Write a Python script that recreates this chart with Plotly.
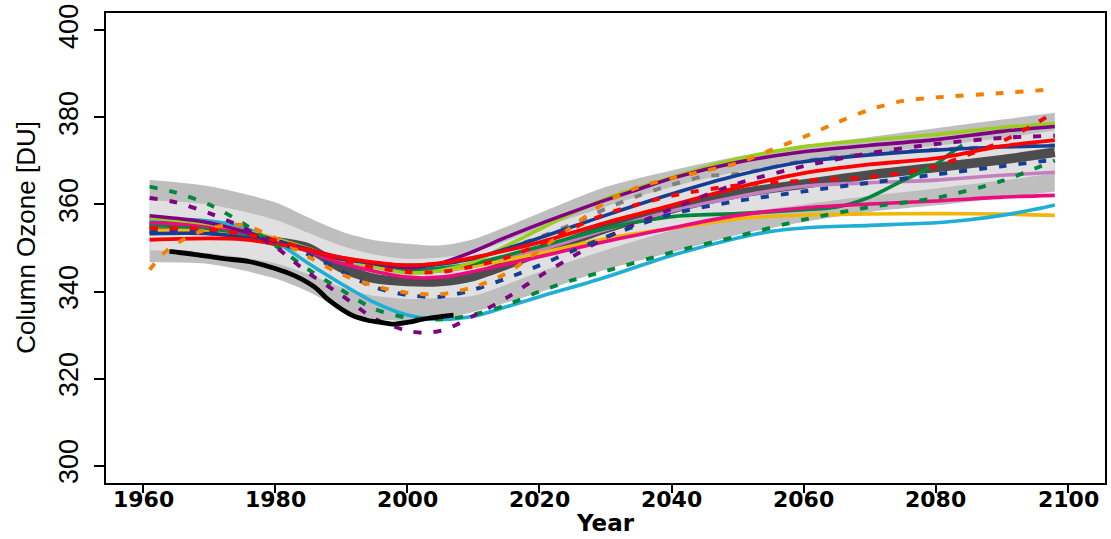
import plotly.graph_objects as go

# ---------------- data ----------------
band_years = [1961, 1970, 1980, 1985, 1990, 1995, 2000, 2005, 2010, 2020, 2030, 2040, 2050, 2060, 2070, 2080, 2090, 2098]
band_hi = [365.6, 364.2, 360.5, 357.0, 353.8, 351.8, 351.0, 350.6, 352.0, 358.0, 364.0, 367.8, 371.0, 373.5, 375.5, 377.5, 379.5, 381.1]
band_lo = [346.7, 346.3, 343.0, 340.0, 336.0, 333.7, 333.3, 333.8, 335.3, 339.8, 345.0, 349.0, 353.0, 356.0, 358.3, 359.8, 361.5, 363.0]
light_hi = [361.0, 360.0, 356.5, 353.5, 350.5, 348.5, 347.5, 347.8, 349.0, 354.5, 359.5, 364.0, 367.5, 369.7, 371.8, 373.5, 375.3, 377.0]
light_lo = [349.5, 348.8, 346.5, 344.0, 341.0, 339.0, 338.3, 338.5, 339.0, 344.5, 349.5, 354.0, 357.8, 360.0, 362.0, 363.7, 365.5, 367.2]
mean_vals = [355.5, 354.5, 351.5, 350.0, 345.5, 343.0, 342.3, 342.3, 343.5, 349.0, 354.5, 359.0, 362.5, 364.7, 366.8, 368.5, 370.3, 372.0]

obs_years = [1964, 1968, 1972, 1976, 1980, 1983, 1986, 1988, 1990, 1992, 1994, 1996, 1998, 2000, 2003, 2007]
obs_vals = [349.2, 348.5, 347.6, 346.9, 345.3, 343.6, 341.0, 338.2, 336.0, 334.3, 333.4, 332.9, 332.5, 332.9, 333.8, 334.6]

grey_dash_years = [1961, 1970, 1980, 1990, 2000, 2010, 2020, 2025, 2030, 2035, 2040, 2045, 2050, 2060, 2070, 2080, 2090, 2098]
grey_dash_vals = [353.5, 353.3, 351.6, 347.5, 346.0, 347.6, 352.5, 355.5, 359.0, 362.0, 364.5, 366.5, 367.0, 370.0, 371.6, 372.6, 373.3, 373.6]

orchid_years = [1961, 1970, 1980, 1990, 2000, 2005, 2010, 2020, 2030, 2040, 2050, 2060, 2070, 2080, 2090, 2098]
orchid_vals = [355.0, 354.5, 351.8, 347.0, 344.7, 344.7, 345.8, 349.5, 354.2, 358.5, 361.8, 364.2, 365.0, 365.6, 366.7, 367.4]

yellow_years = [1961, 1970, 1980, 1990, 2000, 2005, 2010, 2020, 2030, 2040, 2050, 2060, 2070, 2080, 2090, 2098]
yellow_vals = [354.0, 353.8, 351.5, 347.3, 344.9, 344.9, 345.8, 348.8, 352.2, 354.5, 356.7, 357.6, 357.8, 357.9, 357.8, 357.5]

green_years = [1961, 1970, 1980, 1990, 2000, 2005, 2010, 2020, 2030, 2040, 2050, 2060, 2065, 2070, 2075, 2080, 2082, 2084]
green_vals = [355.2, 354.5, 351.8, 347.5, 345.0, 345.4, 346.4, 350.3, 354.5, 357.2, 357.9, 358.8, 359.4, 361.7, 365.5, 369.2, 371.5, 373.6]

cyan_years = [1961, 1965, 1970, 1975, 1980, 1985, 1990, 1995, 2000, 2005, 2010, 2015, 2020, 2030, 2040, 2050, 2055, 2060, 2070, 2080, 2085, 2090, 2095, 2098]
cyan_vals = [356.4, 356.6, 356.2, 354.8, 351.5, 346.5, 341.8, 337.5, 334.6, 333.6, 334.3, 336.5, 338.8, 343.3, 348.3, 352.3, 353.8, 354.6, 355.2, 355.8, 356.5, 357.5, 358.9, 359.9]

pink_years = [1961, 1970, 1980, 1990, 2000, 2005, 2010, 2020, 2030, 2040, 2050, 2060, 2070, 2080, 2090, 2098]
pink_vals = [355.8, 355.0, 352.0, 346.5, 343.3, 343.3, 344.6, 348.0, 351.5, 354.6, 357.5, 359.2, 360.1, 360.8, 361.7, 362.1]

ygreen_years = [1961, 1970, 1980, 1990, 2000, 2005, 2010, 2015, 2020, 2025, 2030, 2035, 2040, 2045, 2050, 2060, 2070, 2080, 2090, 2098]
ygreen_vals = [356.9, 355.5, 352.2, 347.5, 344.3, 344.8, 346.8, 350.5, 354.3, 358.0, 361.3, 363.9, 366.2, 368.5, 370.5, 373.3, 374.8, 376.1, 377.7, 378.6]

purple_years = [1961, 1970, 1980, 1990, 2000, 2005, 2010, 2015, 2020, 2025, 2030, 2035, 2040, 2050, 2060, 2070, 2080, 2090, 2098]
purple_vals = [357.4, 355.8, 351.8, 347.8, 345.5, 346.5, 349.2, 352.5, 355.5, 358.3, 361.0, 363.5, 366.0, 369.7, 372.1, 373.6, 374.9, 376.8, 377.9]

blue_years = [1961, 1970, 1975, 1980, 1985, 1990, 2000, 2005, 2010, 2020, 2030, 2040, 2050, 2060, 2070, 2080, 2090, 2098]
blue_vals = [353.3, 353.3, 352.5, 351.6, 349.5, 347.5, 346.0, 346.3, 347.6, 352.3, 357.5, 362.4, 366.7, 369.8, 371.4, 372.5, 373.2, 373.5]

red_years = [1961, 1970, 1975, 1980, 1985, 1990, 2000, 2005, 2010, 2020, 2030, 2040, 2050, 2060, 2070, 2080, 2090, 2098]
red_vals = [351.9, 352.2, 352.0, 351.0, 349.5, 347.8, 346.0, 346.5, 347.8, 351.3, 355.8, 359.8, 363.9, 367.2, 369.2, 370.6, 373.4, 374.8]

gdash_years = [1961, 1965, 1970, 1975, 1980, 1985, 1990, 1995, 2000, 2005, 2010, 2015, 2020, 2025, 2030, 2040, 2050, 2060, 2070, 2080, 2090, 2098]
gdash_vals = [364.1, 362.7, 360.0, 355.8, 350.6, 345.1, 340.4, 336.0, 334.0, 333.6, 334.7, 336.9, 340.0, 342.6, 344.7, 349.0, 352.7, 356.5, 359.4, 361.5, 365.4, 370.1]

pdash_years = [1961, 1965, 1970, 1975, 1980, 1985, 1990, 1995, 2000, 2003, 2006, 2010, 2015, 2020, 2025, 2030, 2040, 2050, 2060, 2070, 2080, 2090, 2098]
pdash_vals = [361.5, 360.5, 358.0, 354.8, 350.3, 344.3, 339.2, 333.8, 331.0, 330.5, 331.4, 334.4, 338.5, 343.5, 348.0, 352.3, 359.0, 364.8, 368.8, 371.8, 373.9, 375.3, 375.8]

bdash_years = [1961, 1970, 1975, 1980, 1985, 1990, 1995, 2000, 2005, 2010, 2015, 2020, 2025, 2030, 2040, 2050, 2060, 2070, 2080, 2090, 2098]
bdash_vals = [353.8, 354.0, 353.3, 351.5, 348.5, 344.7, 341.0, 339.2, 338.8, 340.4, 343.0, 346.0, 349.3, 352.5, 357.8, 360.8, 363.0, 365.0, 366.9, 368.8, 370.3]

odash_years = [1961, 1963, 1965.5, 1970, 1975, 1980, 1985, 1990, 1995, 2000, 2005, 2010, 2015, 2020, 2025, 2030, 2035, 2040, 2045, 2050, 2055, 2060, 2065, 2070, 2075, 2080, 2090, 2098]
odash_vals = [345.0, 348.6, 351.4, 354.5, 355.3, 352.3, 348.0, 344.0, 341.3, 339.7, 339.4, 341.0, 344.2, 349.5, 355.0, 360.5, 364.0, 366.0, 367.7, 369.5, 372.5, 375.5, 378.8, 381.8, 383.8, 384.6, 385.6, 386.5]

rdash_years = [1961, 1970, 1980, 1990, 1995, 2000, 2005, 2010, 2015, 2020, 2025, 2030, 2040, 2050, 2060, 2070, 2075, 2080, 2085, 2090, 2095, 2098]
rdash_vals = [354.5, 354.3, 351.8, 347.3, 345.5, 344.5, 344.5, 345.8, 347.8, 350.8, 354.5, 357.8, 362.0, 364.4, 365.5, 366.3, 367.3, 368.8, 371.5, 374.5, 378.5, 381.3]

x_ticks = [1960, 1980, 2000, 2020, 2040, 2060, 2080, 2100]
y_ticks = [300, 320, 340, 360, 380, 400]

# ---------------- figure ----------------
fig = go.Figure()

def band(xs, lo, hi, color):
    fig.add_trace(go.Scatter(x=xs, y=lo, mode="lines", line=dict(width=0, shape="spline", smoothing=0.8),
                             hoverinfo="skip", showlegend=False))
    fig.add_trace(go.Scatter(x=xs, y=hi, mode="lines", line=dict(width=0, shape="spline", smoothing=0.8),
                             fill="tonexty", fillcolor=color, hoverinfo="skip", showlegend=False))

band(band_years, band_lo, band_hi, "#BEBEBE")
band(band_years, light_lo, light_hi, "#E0E0E0")

def line(xs, ys, color, width=3.0, dash="solid"):
    fig.add_trace(go.Scatter(x=xs, y=ys, mode="lines",
                             line=dict(color=color, width=width, dash=dash, shape="spline", smoothing=0.8),
                             showlegend=False))

line(band_years, mean_vals, "#4D4D4D", width=9.5)

DASH = "8px,12px"
W = 3.6
WD = 3.9
line(grey_dash_years, grey_dash_vals, "#808080", WD, DASH)
line(orchid_years, orchid_vals, "#C47FC0", W)
line(yellow_years, yellow_vals, "#F2B705", W)
line(green_years, green_vals, "#00873C", W)
line(cyan_years, cyan_vals, "#1FAED6", W)
line(pink_years, pink_vals, "#EC0C80", W)
line(ygreen_years, ygreen_vals, "#9ACD1F", W)
line(purple_years, purple_vals, "#7F0080", W)
line(blue_years, blue_vals, "#153D96", W)
line(red_years, red_vals, "#FF0000", 3.8)
line(gdash_years, gdash_vals, "#00873C", WD, DASH)
line(pdash_years, pdash_vals, "#7F0080", WD, DASH)
line(bdash_years, bdash_vals, "#153D96", WD, DASH)
line(odash_years, odash_vals, "#F57F00", WD, DASH)
line(rdash_years, rdash_vals, "#FF0000", WD, DASH)
line(obs_years, obs_vals, "#000000", 4.8)

tick_font_x = dict(family="DejaVu Sans", size=22, color="black", weight="bold")
annotations = [
    dict(text=str(v), x=v, xref="x", y=-0.036, yref="paper", xanchor="center", yanchor="middle",
         showarrow=False, font=tick_font_x)
    for v in x_ticks
]
annotations += [
    dict(text="Year", x=0.5, xref="paper", y=-0.086, yref="paper", xanchor="center", yanchor="middle",
         showarrow=False, font=dict(family="DejaVu Sans", size=23, color="black", weight="bold")),
    dict(text="Column Ozone [DU]", x=-0.08, xref="paper", y=0.522, yref="paper", xanchor="center",
         yanchor="middle", textangle=-90, showarrow=False,
         font=dict(family="Liberation Sans", size=26, color="black")),
]

fig.update_layout(
    width=1111, height=539,
    margin=dict(l=106, r=4, t=8, b=56),
    paper_bgcolor="white", plot_bgcolor="white",
    showlegend=False,
    xaxis=dict(range=[1954.4, 2105.6], tickvals=x_ticks, showticklabels=False,
               ticks="outside", ticklen=8, tickwidth=1.5, tickcolor="black",
               showline=True, linecolor="black", linewidth=2, mirror=True,
               showgrid=False, zeroline=False),
    yaxis=dict(range=[296, 404], tickvals=y_ticks, ticktext=[str(v) for v in y_ticks],
               ticks="outside", ticklen=10, tickwidth=1.5, tickcolor="black",
               showline=True, linecolor="black", linewidth=2, mirror=True,
               showgrid=False, zeroline=False, tickangle=-90, ticklabeloverflow="allow",
               ticklabelstandoff=5,
               tickfont=dict(family="Liberation Sans", size=27, color="black")),
    annotations=annotations,
)

fig.write_html("out.html")
